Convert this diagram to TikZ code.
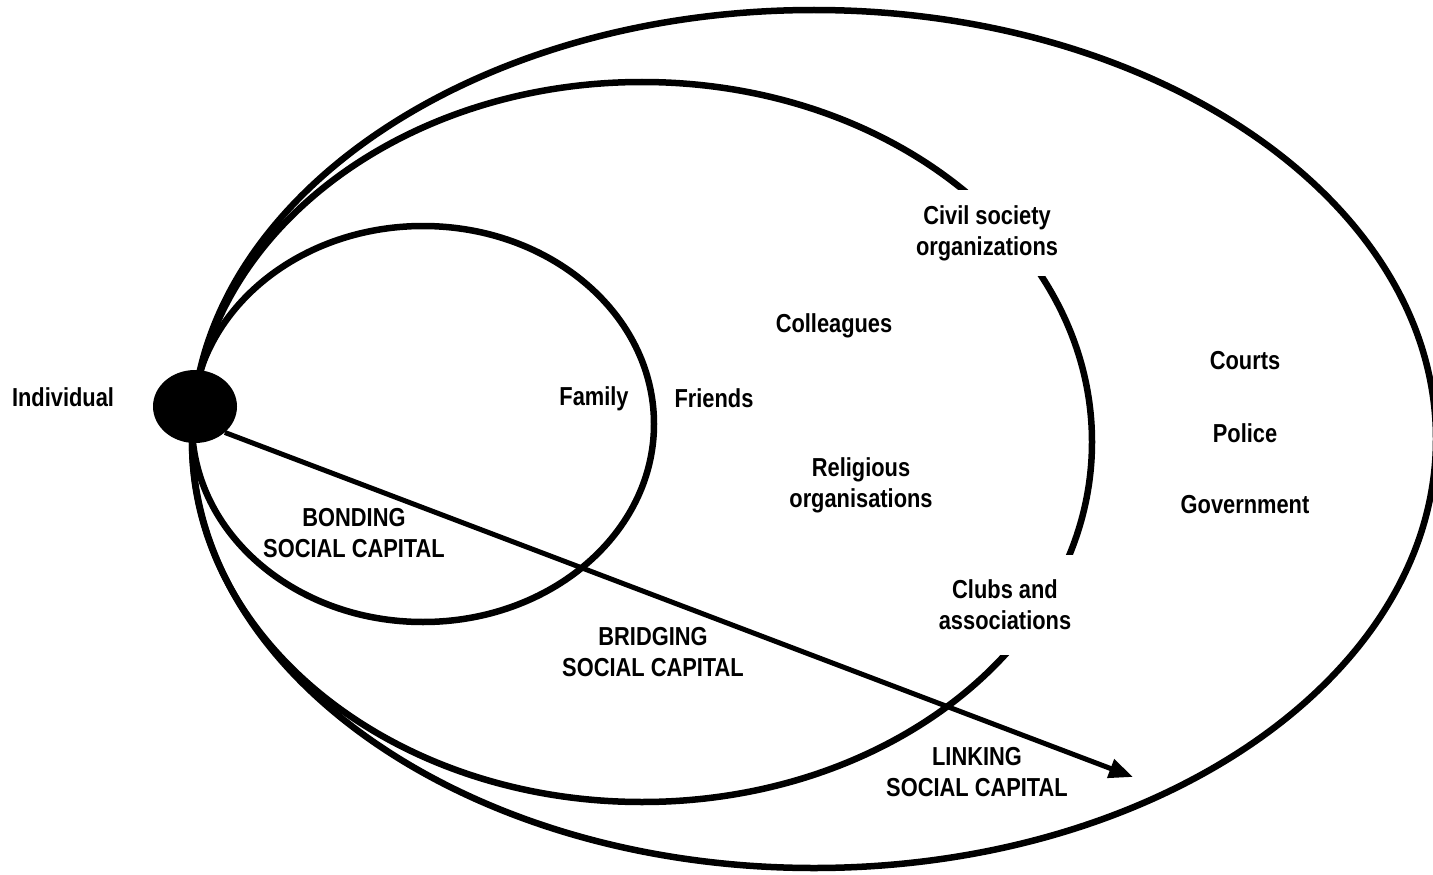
\documentclass[tikz,border=0pt]{standalone}
\usepackage{fontspec}
\setmainfont[FakeStretch=0.84]{Liberation Sans}
\usetikzlibrary{arrows.meta,shapes.geometric}
\begin{document}
\begin{tikzpicture}[x=1pt,y=-1pt,
  ring/.style={line width=6.5pt},
  lbl/.style={font=\bfseries\fontsize{26}{31}\selectfont, align=center, inner sep=0pt},
  cutout/.style={lbl, fill=white, minimum width=#1},
  arrowline/.style={line width=5pt, -{Triangle[length=24pt,width=19pt]}}]
\useasboundingbox (0,0) rectangle (1433,875);

% three nested spheres of social capital
\draw[ring] (423,424) ellipse [x radius=231pt, y radius=198pt];
\draw[ring] (642,442) ellipse [x radius=450pt, y radius=360pt];
\draw[ring] (814,439) ellipse [x radius=622pt, y radius=429pt];

% the individual
\node[ellipse, fill=black, minimum width=84pt, minimum height=73pt, inner sep=0pt] (ind) at (195,406.5) {};
\coordinate (tip) at (1133,777);
\draw[arrowline] (ind.south east) -- (tip);

\node[lbl] (individual) at (63,397) {Individual};
\node[lbl] (family) at (594,399) {Family};
\node[lbl] (friends) at (714,398) {Friends};
\node[lbl] (colleagues) at (834,326) {Colleagues};
\node[lbl] (religious) at (861,485) {Religious\\organisations};
\node[cutout=150pt, minimum height=86pt] (civil) at (987,233) {Civil society\\organizations};
\node[cutout=150pt, minimum height=100pt] (clubs) at (1005,605) {Clubs and\\associations};
\node[lbl] (courts) at (1245,361) {Courts};
\node[lbl] (police) at (1245,433) {Police};
\node[lbl] (govt) at (1245,505) {Government};
\node[lbl] (bonding) at (354,533) {BONDING\\SOCIAL CAPITAL};
\node[lbl] (bridging) at (653,652) {BRIDGING\\SOCIAL CAPITAL};
\node[lbl] (linking) at (977,772) {LINKING\\SOCIAL CAPITAL};
\end{tikzpicture}
\end{document}
